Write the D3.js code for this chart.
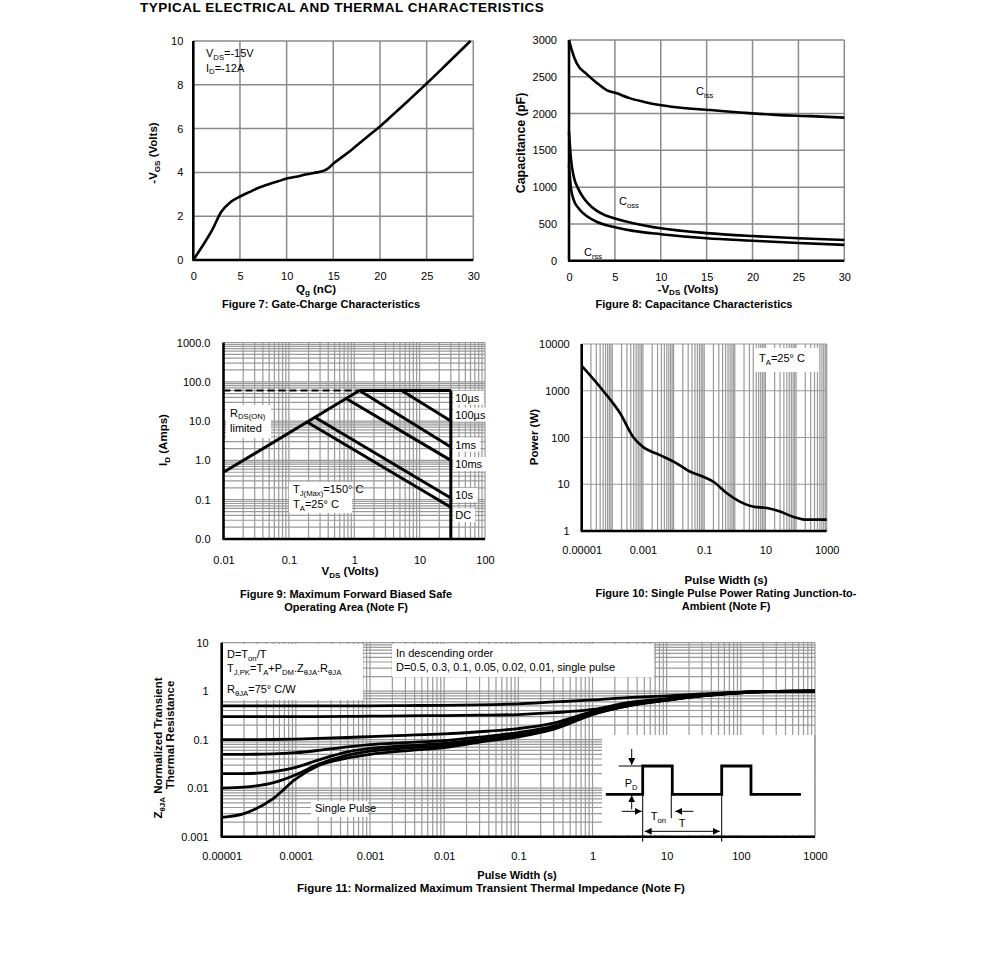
<!DOCTYPE html>
<html><head><meta charset="utf-8">
<script src="https://cdn.jsdelivr.net/npm/d3@7"></script>
<style>body{margin:0;background:#fff}</style>
</head><body><script>
// ---------------- DATA ----------------
// Figure 7: gate charge
const fig7Qg  = [0,1,2,3,4,5,6,7,8,9,10,11,12,13,14,14.5,15,16,17,18,19,20,21,22,23,24,25,27,29.7];
const fig7Vgs = [0,0.65,1.35,2.2,2.65,2.9,3.1,3.3,3.45,3.58,3.72,3.8,3.9,3.98,4.08,4.2,4.4,4.72,5.05,5.4,5.75,6.1,6.48,6.87,7.26,7.66,8.06,8.88,10];
const fig7XTicks = [0,5,10,15,20,25,30];
const fig7YTicks = [0,2,4,6,8,10];
// Figure 8: capacitance
const fig8CissV = [0,0.3,0.84,1.9,3.0,4.1,5.2,6.6,8.1,9.9,11.7,15.4,19,22.6,26.3,30];
const fig8Ciss  = [3000,2864,2683,2540,2420,2320,2275,2210,2162,2116,2085,2048,2012,1982,1965,1945];
const fig8CossV = [0,0.2,0.5,1,1.5,2,3,4,5,7,10,15,20,25,30];
const fig8Coss  = [1750,1400,1150,980,870,790,680,615,575,510,440,375,335,305,282];
const fig8CrssV = [0,0.2,0.5,1,1.5,2,3,4,5,7,10,15,20,25,30];
const fig8Crss  = [1300,1000,830,720,650,600,530,485,455,405,360,305,272,240,215];
const fig8XTicks = [0,5,10,15,20,25,30];
const fig8YTicks = [0,500,1000,1500,2000,2500,3000];
// Figure 9: SOA
const soaRdsV = [0.01, 1.2];
const soaRdsI = [0.5, 60];
const soaLimitI = 60;
const soaVmax = 30;
const soaLineNames = ["10µs","100µs","1ms","10ms","DC"];
const soaStartV = [5.3, 1.2, 0.75, 0.25, 0.19];
const soaStartI = [60, 60, 37.5, 12.5, 9.5];
const soaEndI   = [10, 2.2, 1.0, 0.11, 0.064];
const soaLabels = ["10µs","100µs","1ms","10ms","10s","DC"];
const soaLabelI = [39, 14.5, 2.5, 0.8, 0.13, 0.04];
const fig9XTicks = [0.01,0.1,1,10,100];
const fig9XLabels = ["0.01","0.1","1","10","100"];
const fig9YTicks = [0.01,0.1,1,10,100,1000];
const fig9YLabels = ["0.0","0.1","1.0","10.0","100.0","1000.0"];
// Figure 10: single pulse power
const fig10T = [1e-5,5e-5,1.8e-4,4.9e-4,1e-3,3.6e-3,1.26e-2,3.5e-2,9.3e-2,0.2,0.55,1.5,4.1,11.2,30,83,224,1000];
const fig10P = [3400,1000,330,100,63,42,28,18.5,14.5,11.3,6.4,4.2,3.3,3.1,2.6,2.0,1.75,1.75];
const fig10XTicks = [1e-5,1e-3,1e-1,10,1000];
const fig10XLabels = ["0.00001","0.001","0.1","10","1000"];
const fig10YTicks = [1,10,100,1000,10000];
const fig10YLabels = ["1","10","100","1000","10000"];
// Figure 11: transient thermal impedance
const fig11T = [1e-5,2e-5,5e-5,1e-4,2e-4,5e-4,1e-3,3e-3,1e-2,3e-2,0.1,0.3,1,3,10,30,100,300,1000];
const zD05  = [0.5,0.5,0.5,0.5,0.5,0.5,0.5,0.505,0.51,0.52,0.55,0.6,0.66,0.74,0.8,0.88,0.96,0.99,1.0];
const zD03  = [0.3,0.3,0.3,0.3,0.3,0.302,0.305,0.31,0.315,0.32,0.33,0.36,0.42,0.58,0.7,0.84,0.95,0.99,1.0];
const zD01  = [0.1,0.1,0.101,0.103,0.106,0.111,0.116,0.123,0.132,0.146,0.17,0.22,0.38,0.55,0.68,0.82,0.94,0.99,1.0];
const zD005 = [0.05,0.05,0.051,0.054,0.06,0.071,0.079,0.087,0.096,0.113,0.14,0.19,0.36,0.52,0.67,0.81,0.94,0.99,1.0];
const zD002 = [0.02,0.02,0.022,0.027,0.038,0.056,0.066,0.075,0.084,0.1,0.125,0.175,0.35,0.51,0.66,0.81,0.94,0.99,1.0];
const zD001 = [0.01,0.0105,0.013,0.019,0.031,0.048,0.058,0.067,0.075,0.093,0.12,0.17,0.34,0.5,0.655,0.8,0.93,0.99,1.0];
const zSingle=[0.0025,0.003,0.0062,0.0155,0.029,0.042,0.05,0.059,0.069,0.089,0.115,0.165,0.33,0.5,0.65,0.8,0.93,0.99,1.0];
const fig11Series = [zD05,zD03,zD01,zD005,zD002,zD001,zSingle];
const fig11XTicks = [1e-5,1e-4,1e-3,1e-2,0.1,1,10,100,1000];
const fig11XLabels = ["0.00001","0.0001","0.001","0.01","0.1","1","10","100","1000"];
const fig11YTicks = [0.001,0.01,0.1,1,10];
const fig11YLabels = ["0.001","0.01","0.1","1","10"];
const pulseT = [1.51, 4.75, 11.9, 55.2, 137, 646];
const pulseLow = 0.00748, pulseHigh = 0.0287;

// ---------------- HELPERS ----------------
const FONT = '"Liberation Sans", Arial, Helvetica, sans-serif';
const GRID = '#999', AXW = 2.6, LW = 2.6, TICK = 11;
const svg = d3.select('body').append('svg').attr('width',991).attr('height',968)
  .style('font-family',FONT);

const defs = svg.append('defs');
defs.append('marker').attr('id','arr').attr('viewBox','0 0 8 8').attr('refX',8).attr('refY',4)
  .attr('markerWidth',7).attr('markerHeight',7).attr('markerUnits','userSpaceOnUse').attr('orient','auto')
  .append('path').attr('d','M0,0 L8,4 L0,8 z').attr('fill','#000');
defs.append('marker').attr('id','arrs').attr('viewBox','0 0 8 8').attr('refX',0).attr('refY',4)
  .attr('markerWidth',7).attr('markerHeight',7).attr('markerUnits','userSpaceOnUse').attr('orient','auto')
  .append('path').attr('d','M8,0 L0,4 L8,8 z').attr('fill','#000');

function rich(g,x,y,parts,o={}){
  const size=o.size||11;
  const t=g.append('text').attr('x',x).attr('y',y).attr('font-size',size)
    .attr('text-anchor',o.anchor||'start').attr('font-weight',o.bold?'bold':'normal').attr('fill','#000');
  if(o.rotate) t.attr('transform',`rotate(-90,${x},${y})`);
  const drop=size*0.25;
  let inSub=false;
  parts.forEach(p=>{
    if(Array.isArray(p)){ t.append('tspan').attr('dy',inSub?0:drop).attr('font-size',size*0.7).text(p[0]); inSub=true; }
    else { t.append('tspan').attr('dy',inSub?-drop:0).text(p); inSub=false; }
  });
  return t;
}
function whiteBox(g,x0,y0,x1,y1){ g.append('rect').attr('x',x0).attr('y',y0).attr('width',x1-x0).attr('height',y1-y0).attr('fill','#fff'); }
function logVals(lo,hi){ const v=[]; for(let d=Math.round(Math.log10(lo)); d<Math.round(Math.log10(hi)); d++){ for(let k=1;k<=9;k++) v.push(k*Math.pow(10,d)); } v.push(hi); return v; }
function vgrid(g,x,vals,y0,y1,w=1.2,c=GRID){ g.selectAll(null).data(vals).enter().append('line')
  .attr('x1',d=>x(d)).attr('x2',d=>x(d)).attr('y1',y0).attr('y2',y1).attr('stroke',c).attr('stroke-width',w); }
function hgrid(g,y,vals,x0,x1,w=1.2,c=GRID){ g.selectAll(null).data(vals).enter().append('line')
  .attr('y1',d=>y(d)).attr('y2',d=>y(d)).attr('x1',x0).attr('x2',x1).attr('stroke',c).attr('stroke-width',w); }
function styleAxis(ax,size){ ax.select('.domain').remove(); ax.attr('font-family',null).attr('font-size',null);
  ax.selectAll('text').attr('font-size',size).attr('fill','#000'); }
function axesFrame(g,x,y){
  const xr=x.range(), yr=y.range();
  g.append('line').attr('x1',xr[0]).attr('x2',xr[0]).attr('y1',yr[0]).attr('y2',yr[1]).attr('stroke','#000').attr('stroke-width',AXW);
  g.append('line').attr('x1',xr[0]-1).attr('x2',xr[1]).attr('y1',yr[0]).attr('y2',yr[0]).attr('stroke','#000').attr('stroke-width',AXW);
}
function bottomAxis(g,x,y,ticks,labels,pad,size=TICK){
  const ax=g.append('g').attr('transform',`translate(0,${y.range()[0]})`)
   .call(d3.axisBottom(x).tickValues(ticks).tickSize(0).tickPadding(pad).tickFormat((d,i)=>labels?labels[i]:d));
  styleAxis(ax,size);
}
function leftAxis(g,x,y,ticks,labels,pad,size=TICK){
  const ax=g.append('g').attr('transform',`translate(${x.range()[0]},0)`)
   .call(d3.axisLeft(y).tickValues(ticks).tickSize(0).tickPadding(pad).tickFormat((d,i)=>labels?labels[i]:d));
  styleAxis(ax,size);
}
function title(g,x,y,txt,size=11){
  g.append('text').attr('x',x).attr('y',y).attr('text-anchor','middle').attr('font-size',size).attr('font-weight','bold').text(txt);
}

// ---------------- TITLE ----------------
svg.append('text').attr('x',140).attr('y',11.5).attr('font-size',13.5).attr('letter-spacing',0.5).attr('font-weight','bold')
  .text('TYPICAL ELECTRICAL AND THERMAL CHARACTERISTICS');

// ---------------- FIGURE 7 ----------------
{
  const g=svg.append('g');
  const x=d3.scaleLinear().domain([0,30]).range([193.3,473.3]);
  const y=d3.scaleLinear().domain([0,10]).range([260,41]);
  vgrid(g,x,fig7XTicks.slice(1),y(0),y(10),1.5,'#8a8a8a');
  hgrid(g,y,fig7YTicks.slice(1),x(0),x(30),1.5,'#8a8a8a');
  axesFrame(g,x,y);
  const line=d3.line().x((d,i)=>x(fig7Qg[i])).y(d=>y(d)).curve(d3.curveMonotoneX);
  g.append('path').attr('d',line(fig7Vgs)).attr('fill','none').attr('stroke','#000').attr('stroke-width',LW);
  bottomAxis(g,x,y,fig7XTicks,null,12.5);
  leftAxis(g,x,y,fig7YTicks,null,10);
  rich(g,206,57,['V',['DS'],'=-15V']);
  rich(g,206,71.5,['I',['D'],'=-12A']);
  rich(g,157,153,['-V',['GS'],' (Volts)'],{bold:true,rotate:true,anchor:'middle',size:11.5});
  rich(g,316,292.5,['Q',['g'],' (nC)'],{bold:true,anchor:'middle',size:11.5});
  title(g,321,307.5,'Figure 7: Gate-Charge Characteristics');
}

// ---------------- FIGURE 8 ----------------
{
  const g=svg.append('g');
  const x=d3.scaleLinear().domain([0,30]).range([569,844.3]);
  const y=d3.scaleLinear().domain([0,3000]).range([260.7,40]);
  vgrid(g,x,fig8XTicks.slice(1),y(0),y(3000),1.5,'#8a8a8a');
  hgrid(g,y,fig8YTicks.slice(1),x(0),x(30),1.5,'#8a8a8a');
  axesFrame(g,x,y);
  const mk=(vs)=>d3.line().x((d,i)=>x(vs[i])).y(d=>y(d)).curve(d3.curveMonotoneX);
  [[fig8CissV,fig8Ciss],[fig8CossV,fig8Coss],[fig8CrssV,fig8Crss]].forEach(([v,c])=>{
    g.append('path').attr('d',mk(v)(c)).attr('fill','none').attr('stroke','#000').attr('stroke-width',LW);
  });
  bottomAxis(g,x,y,fig8XTicks,null,12.5);
  leftAxis(g,x,y,fig8YTicks,null,12);
  rich(g,696,95,['C',['iss']]);
  rich(g,619,205,['C',['oss']]);
  rich(g,584,256,['C',['rss']]);
  rich(g,524.5,143,['Capacitance (pF)'],{bold:true,rotate:true,anchor:'middle',size:12.5});
  rich(g,688,292.5,['-V',['DS'],' (Volts)'],{bold:true,anchor:'middle',size:11.5});
  title(g,694,307.5,'Figure 8: Capacitance Characteristics');
}

// ---------------- FIGURE 9 ----------------
{
  const g=svg.append('g');
  const x=d3.scaleLog().domain([0.01,100]).range([223.5,485]);
  const y=d3.scaleLog().domain([0.01,1000]).range([539,342.5]);
  vgrid(g,x,logVals(0.01,100).slice(1),y(0.01),y(1000));
  hgrid(g,y,logVals(0.01,1000).slice(1),x(0.01),x(100));
  whiteBox(g,226,405,271,438);
  whiteBox(g,289,482,352,513);
  axesFrame(g,x,y);
  const L=d3.line().x(d=>x(d[0])).y(d=>y(d[1]));
  const thick=(pts,w=3)=>g.append('path').attr('d',L(pts)).attr('fill','none').attr('stroke','#000').attr('stroke-width',w);
  g.append('path').attr('d',L([[0.01,soaLimitI],[soaRdsV[1],soaLimitI]])).attr('fill','none')
    .attr('stroke','#000').attr('stroke-width',2).attr('stroke-dasharray','7,4');
  thick([[soaRdsV[0],soaRdsI[0]],[soaRdsV[1],soaRdsI[1]]]);
  thick([[soaRdsV[1],soaLimitI],[soaVmax,soaLimitI]]);
  thick([[soaVmax,soaLimitI],[soaVmax,0.01]]);
  soaLineNames.forEach((n,i)=>thick([[soaStartV[i],soaStartI[i]],[soaVmax,soaEndI[i]]]));
  soaLabels.forEach((t,i)=>{
    const tx=g.append('text').attr('x',x(35)).attr('y',y(soaLabelI[i])).attr('dy','0.35em')
      .attr('font-size',11).text(t);
    const b=tx.node().getBBox();
    g.insert('rect',()=>tx.node()).attr('x',b.x-2).attr('y',b.y-1).attr('width',b.width+6).attr('height',b.height+2).attr('fill','#fff');
  });
  rich(g,230,416.5,['R',['DS(ON)']]);
  rich(g,230,432,['limited']);
  rich(g,293,493,['T',['J(Max)'],'=150° C']);
  rich(g,293,508,['T',['A'],'=25° C']);
  bottomAxis(g,x,y,fig9XTicks,fig9XLabels,17);
  leftAxis(g,x,y,fig9YTicks,fig9YLabels,13);
  rich(g,167,440,['I',['D'],' (Amps)'],{bold:true,rotate:true,anchor:'middle',size:11.5});
  rich(g,350,575,['V',['DS'],' (Volts)'],{bold:true,anchor:'middle',size:11.5});
  title(g,346,598,'Figure 9: Maximum Forward Biased Safe');
  title(g,346,611,'Operating Area (Note F)');
}

// ---------------- FIGURE 10 ----------------
{
  const g=svg.append('g');
  const x=d3.scaleLog().domain([1e-5,1000]).range([581.7,826.7]);
  const y=d3.scaleLog().domain([1,10000]).range([531,344]);
  vgrid(g,x,logVals(1e-5,1000).slice(1),y(1),y(10000));
  hgrid(g,y,fig10YTicks.slice(1),x(1e-5),x(1000));
  whiteBox(g,755,348,818,372);
  axesFrame(g,x,y);
  const line=d3.line().x((d,i)=>x(fig10T[i])).y(d=>y(d)).curve(d3.curveMonotoneX);
  g.append('path').attr('d',line(fig10P)).attr('fill','none').attr('stroke','#000').attr('stroke-width',LW);
  rich(g,759,362,['T',['A'],'=25° C']);
  bottomAxis(g,x,y,fig10XTicks,fig10XLabels,15);
  leftAxis(g,x,y,fig10YTicks,fig10YLabels,12);
  rich(g,538,437,['Power (W)'],{bold:true,rotate:true,anchor:'middle',size:11.5});
  rich(g,726,584,['Pulse Width (s)'],{bold:true,anchor:'middle',size:11.5});
  title(g,726,597,'Figure 10: Single Pulse Power Rating Junction-to-');
  title(g,726,610,'Ambient (Note F)');
}

// ---------------- FIGURE 11 ----------------
{
  const g=svg.append('g');
  const x=d3.scaleLog().domain([1e-5,1000]).range([221.7,815]);
  const y=d3.scaleLog().domain([0.001,10]).range([836.7,642.7]);
  vgrid(g,x,logVals(1e-5,1000).slice(1),y(0.001),y(10));
  hgrid(g,y,logVals(0.001,10).slice(1),x(1e-5),x(1000));
  whiteBox(g,223,644,363,700);
  whiteBox(g,392,644,654,677);
  whiteBox(g,311,801,368,817);
  whiteBox(g,602,735,814,835);
  g.append('line').attr('x1',x(1000)).attr('x2',x(1000)).attr('y1',735).attr('y2',836).attr('stroke',GRID).attr('stroke-width',1.2);
  axesFrame(g,x,y);
  const line=d3.line().x((d,i)=>x(fig11T[i])).y(d=>y(d)).curve(d3.curveMonotoneX);
  fig11Series.forEach(s=>g.append('path').attr('d',line(s)).attr('fill','none').attr('stroke','#000').attr('stroke-width',2.8));
  rich(g,227,658,['D=T',['on'],'/T']);
  rich(g,227,672,['T',['J,PK'],'=T',['A'],'+P',['DM'],'.Z',['θJA'],'.R',['θJA']]);
  rich(g,227,693,['R',['θJA'],'=75° C/W']);
  rich(g,396,657,['In descending order']);
  rich(g,396,671,['D=0.5, 0.3, 0.1, 0.05, 0.02, 0.01, single pulse']);
  rich(g,315,812,['Single Pulse']);
  // pulse inset
  const px=pulseT.map(t=>x(t)), yl=y(pulseLow), yh=y(pulseHigh);
  const pp=[[px[0],yl],[px[1],yl],[px[1],yh],[px[2],yh],[px[2],yl],[px[3],yl],[px[3],yh],[px[4],yh],[px[4],yl],[px[5],yl]];
  g.append('path').attr('d',d3.line()(pp)).attr('fill','none').attr('stroke','#000').attr('stroke-width',2.8);
  const thin=(x1,y1,x2,y2,arrow)=>{const l=g.append('line').attr('x1',x1).attr('y1',y1).attr('x2',x2).attr('y2',y2).attr('stroke','#000').attr('stroke-width',1);
    if(arrow) l.attr('marker-end','url(#arr)'); if(arrow==2) l.attr('marker-start','url(#arrs)'); return l;};
  thin(px[1]-24,yh,px[1],yh);
  thin(px[1]-11,yh-17,px[1]-11,yh-1,1);
  thin(px[1]-11,yl+15,px[1]-11,yl+1,1);
  rich(g,px[1]-18,yl-7,['P',['D']]);
  thin(px[1]-21,yl+17,px[1]-1,yl+17,1);
  rich(g,px[1]+8,yl+26,['T',['on']]);
  thin(px[2]+21,yl+17,px[2]+3,yl+17,1);
  thin(px[2]-1,yl,px[2]-1,yl+24);
  thin(px[1],yl,px[1],y(0.001)+5);
  thin(px[3],yl,px[3],y(0.001)+5);
  thin(px[1]+2,yl+37,px[3]-2,yl+37,2);
  rich(g,(px[1]+px[3])/2,yl+33,['T'],{anchor:'middle'});
  bottomAxis(g,x,y,fig11XTicks,fig11XLabels,15.5);
  leftAxis(g,x,y,fig11YTicks,fig11YLabels,13);
  rich(g,162,748,['Z',['θJA'],' Normalized Transient'],{bold:true,rotate:true,anchor:'middle',size:11.5});
  rich(g,174,735,['Thermal Resistance'],{bold:true,rotate:true,anchor:'middle',size:11.5});
  rich(g,517,879,['Pulse Width (s)'],{bold:true,anchor:'middle',size:11});
  title(g,491,892,'Figure 11: Normalized Maximum Transient Thermal Impedance (Note F)',11.5);
}
</script></body></html>
